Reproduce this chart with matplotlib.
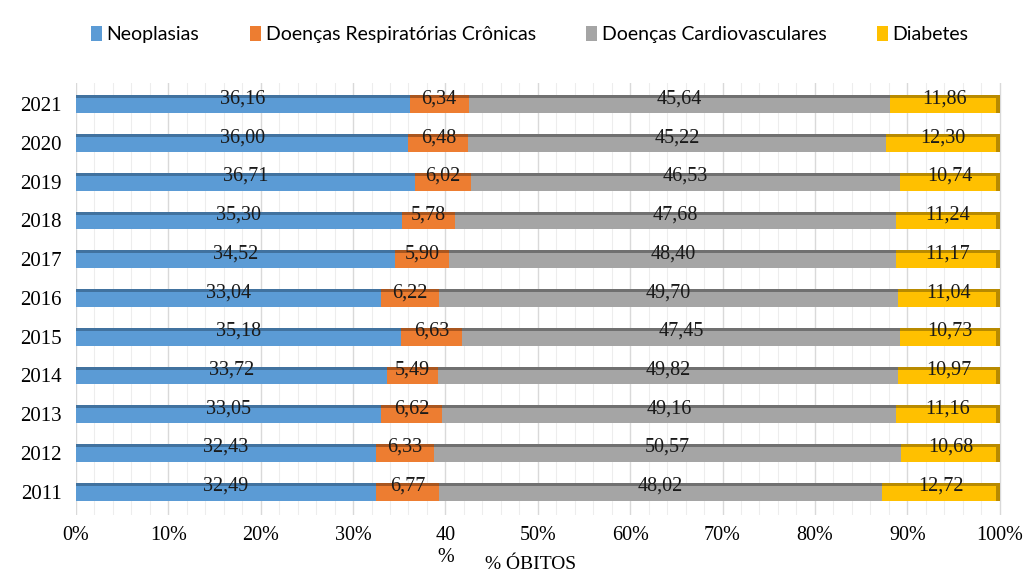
import matplotlib.pyplot as plt
from matplotlib.ticker import MultipleLocator, FuncFormatter

# dados (% de óbitos por grupo de doença)
anos = ["2011", "2012", "2013", "2014", "2015", "2016", "2017", "2018", "2019", "2020", "2021"]
neoplasias = [32.49, 32.43, 33.05, 33.72, 35.18, 33.04, 34.52, 35.30, 36.71, 36.00, 36.16]
respiratorias = [6.77, 6.33, 6.62, 5.49, 6.63, 6.22, 5.90, 5.78, 6.02, 6.48, 6.34]
cardiovasculares = [48.02, 50.57, 49.16, 49.82, 47.45, 49.70, 48.40, 47.68, 46.53, 45.22, 45.64]
diabetes = [12.72, 10.68, 11.16, 10.97, 10.73, 11.04, 11.17, 11.24, 10.74, 12.30, 11.86]

nomes = ["Neoplasias", "Doenças Respiratórias Crônicas", "Doenças Cardiovasculares", "Diabetes"]
series = [neoplasias, respiratorias, cardiovasculares, diabetes]
cores = ["#5B9BD5", "#ED7D31", "#A5A5A5", "#FFC000"]
cores_topo = ["#41729F", "#A9561F", "#707070", "#B88A00"]

serif = ["Liberation Serif", "DejaVu Serif"]

fig = plt.figure(figsize=(10.35, 5.76), dpi=100)
ax = fig.add_axes([0.0734, 0.106, 0.896, 0.75])

y = list(range(len(anos)))
h = 0.46
esquerda = [0.0] * len(anos)
for nome, vals, cor, cor_t in zip(nomes, series, cores, cores_topo):
    ax.barh(y, vals, left=esquerda, height=h, color=cor, label=nome, zorder=3)
    # faixa escura no topo (efeito 3D)
    ax.barh([v + h / 2 - 0.04 for v in y], vals, left=esquerda, height=0.08,
            color=cor_t, zorder=4)
    for i, v in enumerate(vals):
        ax.text(esquerda[i] + v / 2, y[i] + 0.14, f"{v:.2f}".replace(".", ","),
                ha="center", va="center", fontsize=14.5, family=serif,
                color="#1a1a1a", zorder=5)
    esquerda = [a + b for a, b in zip(esquerda, vals)]

# borda direita escura (efeito 3D)
ax.barh(y, [0.35] * len(anos), left=[100 - 0.35] * len(anos), height=h,
        color="#B88A00", zorder=4)

ax.set_xlim(0, 100.4)
ax.set_ylim(-0.6, len(anos) - 0.45)
ax.set_yticks(y)
ax.set_yticklabels(anos, family=serif, fontsize=15)

ax.xaxis.set_major_locator(MultipleLocator(10))
ax.xaxis.set_minor_locator(MultipleLocator(2))
ax.xaxis.set_major_formatter(FuncFormatter(lambda v, p: "40\n%" if round(v) == 40 else f"{v:.0f}%"))
for lb in ax.get_xticklabels():
    lb.set_fontfamily(serif)
ax.tick_params(axis="x", which="both", labelsize=14.5, length=0, pad=8)
ax.tick_params(axis="y", length=0, pad=10)
for lb in ax.get_xticklabels():
    lb.set_verticalalignment("top")

ax.grid(axis="x", which="major", color="#D9D9D9", linewidth=1.0, zorder=0)
ax.grid(axis="x", which="minor", color="#EDEDED", linewidth=0.8, zorder=0)
for s in ax.spines.values():
    s.set_visible(False)

fig.text(0.513, 0.006, "% ÓBITOS", ha="center", va="bottom", family=serif, fontsize=14)

fig.legend(loc="upper center", bbox_to_anchor=(0.512, 0.985), ncol=4, frameon=False,
           prop={"family": ["Lato", "DejaVu Sans"], "size": 14},
           handlelength=0.55, handleheight=0.8, handletextpad=0.25, columnspacing=2.6)

fig.savefig("out.png", dpi=100)
